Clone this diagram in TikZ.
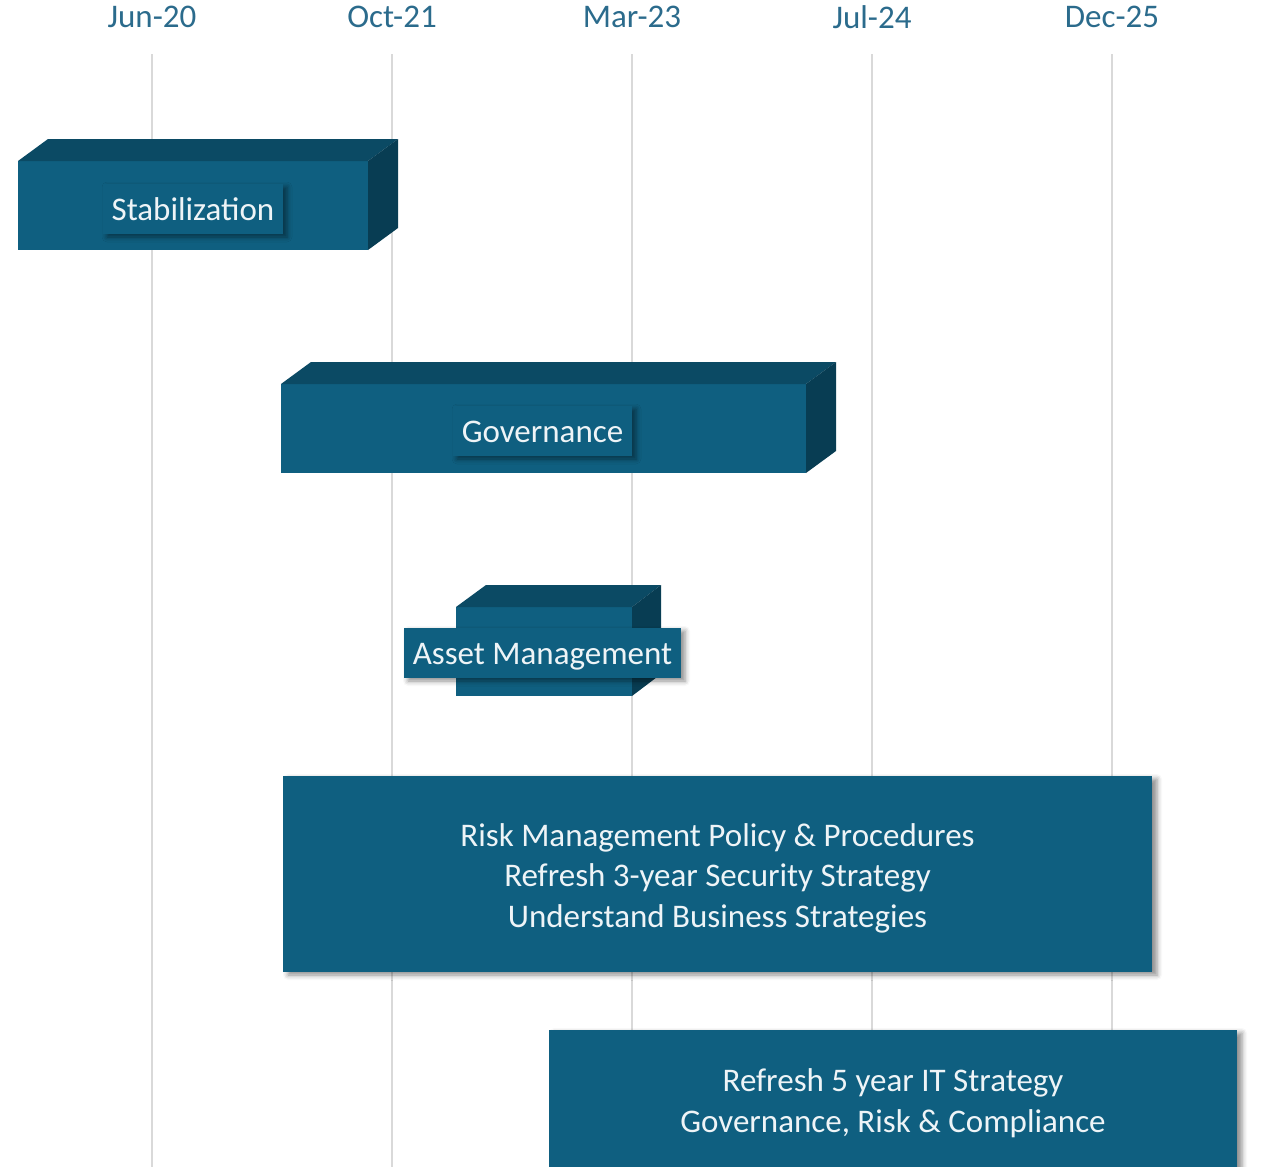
\documentclass[tikz,border=0pt]{standalone}
\usepackage{fontspec}
\setmainfont{Carlito}
\usetikzlibrary{calc,shadows.blur}
\definecolor{frontc}{HTML}{0F5F80}
\definecolor{topc}{HTML}{0B4A64}
\definecolor{sidec}{HTML}{083D53}
\definecolor{gridc}{HTML}{D9D9D9}
\definecolor{axisc}{HTML}{2B6B8C}
\definecolor{txtc}{HTML}{EEF4F7}
\tikzset{
  gridline/.style={draw=gridc, line width=2pt},
  axislbl/.style={text=axisc, font=\fontsize{33}{36}\selectfont, inner sep=0pt},
  barfront/.style={fill=frontc, inner sep=0pt, outer sep=0pt, anchor=north west, minimum height=89pt},
  bartop/.style={fill=topc},
  barside/.style={fill=sidec},
  lbl/.style={fill=frontc, text=txtc, font=\fontsize{33}{38}\selectfont, inner xsep=0pt, inner ysep=0pt,
    text height=25pt, text depth=3pt, minimum height=50pt, outer sep=0pt,
    blur shadow={shadow xshift=4pt, shadow yshift=-3pt, shadow blur radius=5pt, shadow opacity=45}},
  bigbox/.style={fill=frontc, inner sep=0pt, outer sep=0pt, anchor=north west,
    blur shadow={shadow xshift=5pt, shadow yshift=-3pt, shadow blur radius=5pt, shadow opacity=45}},
  boxtxt/.style={text=txtc, font=\fontsize{33}{40.5}\selectfont, align=center, inner sep=0pt}
}
\begin{document}
\begin{tikzpicture}[x=1pt,y=-1pt]
\useasboundingbox (0,0) rectangle (1278,1167);
% grid lines and axis labels
\foreach \xx/\lab/\nm in {152/Jun-20/a1, 392/Oct-21/a2, 632/Mar-23/a3, 872/Jul-24/a4, 1112/Dec-25/a5}{
  \draw[gridline] (\xx,54) -- (\xx,1167);
  \node[axislbl] (\nm) at (\xx,17) {\lab};
}
% Stabilization bar
\node[barfront, minimum width=350pt] (stab) at (18,161) {};
\fill[bartop] (stab.north west) -- ($(stab.north west)+(30,-22)$) -- ($(stab.north east)+(30,-22)$) -- (stab.north east) -- cycle;
\fill[barside] (stab.north east) -- ($(stab.north east)+(30,-22)$) -- ($(stab.south east)+(30,-22)$) -- (stab.south east) -- cycle;
\node[lbl, minimum width=180pt] (stabl) at (193,209) {Stabilization};
% Governance bar
\node[barfront, minimum width=525pt] (gov) at (281,384) {};
\fill[bartop] (gov.north west) -- ($(gov.north west)+(30,-22)$) -- ($(gov.north east)+(30,-22)$) -- (gov.north east) -- cycle;
\fill[barside] (gov.north east) -- ($(gov.north east)+(30,-22)$) -- ($(gov.south east)+(30,-22)$) -- (gov.south east) -- cycle;
\node[lbl, minimum width=179pt] (govl) at (542.5,431) {Governance};
% Asset Management bar
\node[barfront, minimum width=176pt] (asset) at (456,607) {};
\fill[bartop] (asset.north west) -- ($(asset.north west)+(30,-22)$) -- ($(asset.north east)+(29,-22)$) -- (asset.north east) -- cycle;
\fill[barside] (asset.north east) -- ($(asset.north east)+(29,-22)$) -- ($(asset.south east)+(29,-22)$) -- (asset.south east) -- cycle;
\node[lbl, minimum width=277pt] (assetl) at (542.5,653) {Asset Management};
% Risk box
\node[bigbox, minimum width=869pt, minimum height=196pt] (risk) at (283,776) {};
\node[boxtxt] (risktxt) at ($(risk.center)+(0,4)$)
  {Risk Management Policy \& Procedures\\Refresh 3-year Security Strategy\\Understand Business Strategies};
% IT strategy box
\node[bigbox, minimum width=688pt, minimum height=140pt] (itstrat) at (549,1030) {};
\node[boxtxt] (ittxt) at ($(itstrat.center)+(0,3)$)
  {Refresh 5 year IT Strategy\\Governance, Risk \& Compliance};
\end{tikzpicture}
\end{document}
